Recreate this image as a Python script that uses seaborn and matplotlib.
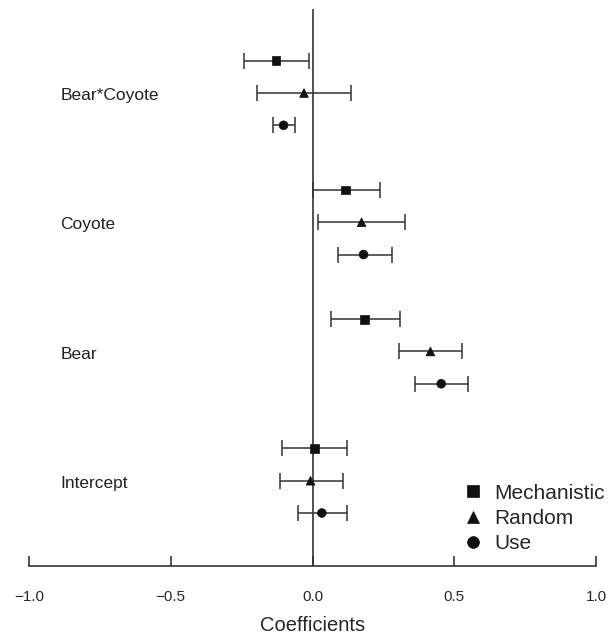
import numpy as np
import pandas as pd
import matplotlib
matplotlib.use('Agg')
import matplotlib.pyplot as plt
import seaborn as sns

# data
terms = ['Intercept', 'Bear', 'Coyote', 'Bear*Coyote']
models = ['Mechanistic', 'Random', 'Use']

mech_coef = [0.007, 0.183, 0.117, -0.129]
mech_lo = [-0.106, 0.067, 0.001, -0.242]
mech_hi = [0.122, 0.309, 0.237, -0.011]

rand_coef = [-0.007, 0.416, 0.173, -0.030]
rand_lo = [-0.114, 0.306, 0.019, -0.195]
rand_hi = [0.107, 0.528, 0.327, 0.136]

use_coef = [0.033, 0.454, 0.180, -0.102]
use_lo = [-0.051, 0.362, 0.091, -0.139]
use_hi = [0.122, 0.550, 0.280, -0.062]

xticks = [-1.0, -0.5, 0.0, 0.5, 1.0]
xticklabels = ['\u22121.0', '\u22120.5', '0.0', '0.5', '1.0']

offsets = {'Mechanistic': 0.25, 'Random': 0.0, 'Use': -0.25}
markers = {'Mechanistic': 's', 'Random': '^', 'Use': 'o'}

rows = []
for model, coef, lo, hi in [('Mechanistic', mech_coef, mech_lo, mech_hi),
                            ('Random', rand_coef, rand_lo, rand_hi),
                            ('Use', use_coef, use_lo, use_hi)]:
    for i, term in enumerate(terms):
        rows.append({'term': term, 'model': model, 'coef': coef[i],
                     'lo': lo[i], 'hi': hi[i], 'y': i + offsets[model]})
df = pd.DataFrame(rows)

sns.set_style('white')
plt.rcParams['font.family'] = ['Liberation Sans', 'DejaVu Sans']

fig = plt.figure(figsize=(6.08, 6.35), dpi=100)
ax = fig.add_axes([29 / 608, 1 - 566 / 635, 567 / 608, 557 / 635])

ax.axvline(0, color='#333333', lw=1.2, zorder=1)

# error bars
ax.errorbar(df['coef'], df['y'],
            xerr=[df['coef'] - df['lo'], df['hi'] - df['coef']],
            fmt='none', ecolor='#333333', elinewidth=1.1, capsize=6,
            capthick=1.1, zorder=2)

sns.scatterplot(data=df, x='coef', y='y', style='model', markers=markers,
                style_order=models, color='#111111', s=40, edgecolor='#111111',
                linewidth=0.5, ax=ax, zorder=3)

for i, term in enumerate(terms):
    ax.text(-0.889, i - 0.02, term, va='center', ha='left', fontsize=12.5, color='#222222')

ax.set_xlim(-1, 1)
ax.set_ylim(-0.66, 3.65)
ax.set_yticks([])
ax.set_ylabel('')
ax.set_xticks(xticks)
ax.set_xticklabels(xticklabels, fontsize=11)
ax.tick_params(axis='x', bottom=True, direction='in', length=7.5, width=1.2,
               color='#333333', pad=17)
ax.set_xlabel('Coefficients', fontsize=14.5, labelpad=9)
sns.despine(ax=ax, left=True, top=True, right=True)
ax.spines['bottom'].set_color('#333333')
ax.spines['bottom'].set_linewidth(1.2)

leg = ax.legend(title=None, loc='lower right', bbox_to_anchor=(1.03, 0.008),
                frameon=False, fontsize=15, handletextpad=0.0, labelspacing=0.3,
                markerscale=1.35, borderaxespad=0)

fig.savefig('out.png', dpi=100)
